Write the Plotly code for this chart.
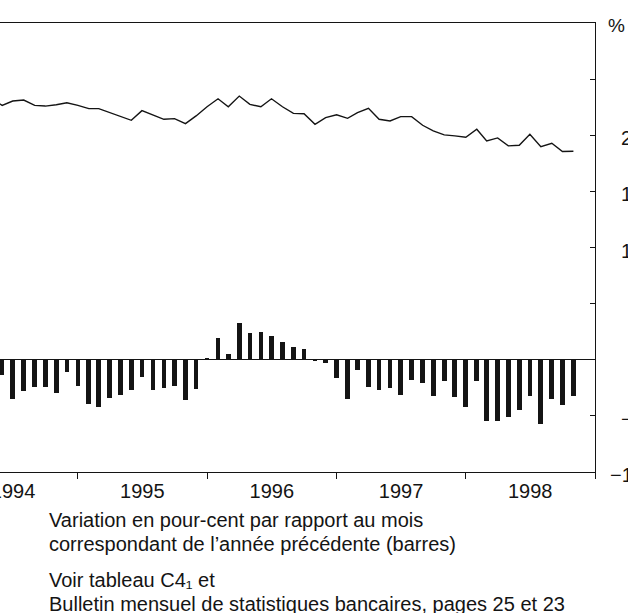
import plotly.graph_objects as go
import pandas as pd

# Monthly % change vs same month previous year (bars), Jun 1994 - Nov 1998
bar_months = pd.date_range("1994-06-01", "1998-11-01", freq="MS").strftime("%Y-%m-%d").tolist()
bar_values = [
    -1.4, -3.5, -2.8, -2.4, -2.4, -3.0, -1.1,            # 1994 Jun-Dec
    -2.3, -3.9, -4.2, -3.4, -3.1, -2.7, -1.5, -2.7, -2.5, -2.3, -3.6, -2.6,  # 1995
    0.2, 1.9, 0.5, 3.3, 2.4, 2.5, 2.1, 1.6, 1.1, 1.0, -0.1, -0.3,           # 1996
    -1.6, -3.5, -0.9, -2.4, -2.7, -2.5, -3.1, -1.8, -2.1, -3.2, -1.9, -3.3,  # 1997
    -4.2, -1.9, -5.5, -5.5, -5.1, -4.5, -3.2, -5.7, -3.5, -4.0, -3.2,        # 1998 Jan-Nov
]

# Level series (line), May 1994 - Nov 1998, in the units of the right scale
line_months = pd.date_range("1994-05-01", "1998-11-01", freq="MS").strftime("%Y-%m-%d").tolist()
line_values = [
    23.3,
    22.66, 23.05, 23.14, 22.66, 22.6, 22.72, 22.9,
    22.66, 22.37, 22.37, 22.01, 21.66, 21.33, 22.19, 21.78, 21.42, 21.48, 21.04, 21.72,
    22.54, 23.25, 22.54, 23.49, 22.75, 22.54, 23.25, 22.54, 21.95, 21.92, 20.98, 21.57,
    21.83, 21.51, 22.01, 22.4, 21.42, 21.27, 21.66, 21.66, 20.89, 20.38, 20.03, 19.94,
    19.82, 20.53, 19.5, 19.76, 19.05, 19.11, 20.09, 18.99, 19.29, 18.55, 18.58,
]

y_tick_values = [30, 25, 20, 15, 10, 5, 0, -5, -10]
y_label_values = [20, 15, 10, -5, -10]
y_label_texts = ["20", "15", "10", "\u22125", "\u221210"]
year_starts = ["1994-01-01", "1995-01-01", "1996-01-01", "1997-01-01", "1998-01-01", "1999-01-01"]
year_mids = ["1994-07-02", "1995-07-02", "1996-07-02", "1997-07-02", "1998-07-02"]
year_labels = ["1994", "1995", "1996", "1997", "1998"]
x_range = ["1994-05-26", "1999-01-01"]

note_lines = [
    "Variation en pour-cent par rapport au mois",
    "correspondant de l\u2019ann\u00e9e pr\u00e9c\u00e9dente (barres)",
    "Voir tableau C4\u2081 et",
    "Bulletin mensuel de statistiques bancaires, pages 25 et 23",
]

W, H = 628, 613
L, R, T, B = 0, 33, 23, 141
plot_w = W - L - R
plot_h = H - T - B
FONT = "Liberation Sans, Arial, sans-serif"
INK = "#141414"
FS = 20

fig = go.Figure()
fig.add_trace(go.Bar(
    x=bar_months, y=bar_values, marker=dict(color=INK, line=dict(width=0)),
    width=1.15e9, showlegend=False,
))
fig.add_trace(go.Scatter(
    x=line_months, y=line_values, mode="lines",
    line=dict(color=INK, width=1.4), showlegend=False,
))

annotations = []
label_right_px = 642
for v, t in zip(y_label_values, y_label_texts):
    start_px = label_right_px - 11.1 * len(t)
    annotations.append(dict(
        x=start_px / plot_w, xref="paper", y=v, yref="y", text=t, showarrow=False,
        xanchor="left", yanchor="middle", yshift=-3, borderpad=0,
        font=dict(family=FONT, size=FS, color=INK),
    ))
annotations.append(dict(
    x=607 / plot_w, xref="paper", y=(H - B - 25) / plot_h, yref="paper", text="%",
    showarrow=False, xanchor="left", yanchor="middle", borderpad=0,
    font=dict(family=FONT, size=19, color=INK),
))
note_y = [520, 544, 580, 604]
for txt, ypx in zip(note_lines, note_y):
    annotations.append(dict(
        x=48 / plot_w, xref="paper", y=(H - B - ypx) / plot_h, yref="paper",
        text=txt, showarrow=False, xanchor="left", yanchor="middle", borderpad=0,
        font=dict(family=FONT, size=FS, color=INK),
    ))

fig.update_layout(
    width=W, height=H,
    margin=dict(l=L, r=R, t=T, b=B, pad=0, autoexpand=False),
    paper_bgcolor="white", plot_bgcolor="white",
    bargap=0,
    xaxis=dict(
        type="date", range=x_range, automargin=False,
        tickmode="array", tickvals=year_mids, ticktext=year_labels,
        ticks="outside", ticklen=1, tickcolor="rgba(0,0,0,0)",
        ticklabeloverflow="allow",
        minor=dict(tickmode="array", tickvals=year_starts, ticks="outside",
                   ticklen=6, tickcolor=INK, tickwidth=1, showgrid=False),
        showline=True, linecolor=INK, linewidth=1, mirror=True,
        showgrid=False, zeroline=False,
        tickfont=dict(family=FONT, size=FS, color=INK),
    ),
    yaxis=dict(
        side="right", range=[-10, 30], tickvals=y_tick_values, automargin=False,
        showticklabels=False, ticks="inside", ticklen=5, tickcolor=INK,
        showline=True, linecolor=INK, linewidth=1, mirror=False,
        showgrid=False, zeroline=True, zerolinecolor=INK, zerolinewidth=1,
    ),
    annotations=annotations,
)

fig.write_html("out.html", config={"displayModeBar": False},
               post_script="document.body.style.margin='0px';")
